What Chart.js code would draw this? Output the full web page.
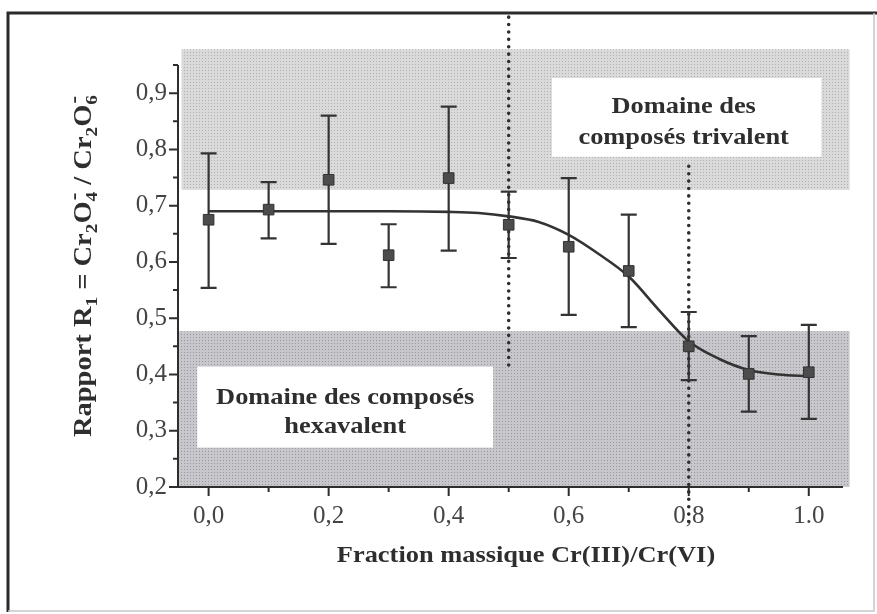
<!DOCTYPE html>
<html>
<head>
<meta charset="utf-8">
<script src="https://cdn.jsdelivr.net/npm/chart.js@4.4.1/dist/chart.umd.min.js"></script>
<style>
  html, body { margin: 0; padding: 0; background: #fff; }
  #chart { display: block; }
</style>
</head>
<body>
<canvas id="chart" width="877" height="614"></canvas>
<script>
// mass fraction Cr(III)/Cr(VI) and measured ratio R1 with its error bars
const fractions = [0.0, 0.1, 0.2, 0.3, 0.4, 0.5, 0.6, 0.7, 0.8, 0.9, 1.0];
const ratios = [0.675, 0.693, 0.746, 0.612, 0.749, 0.666, 0.627, 0.584, 0.450, 0.401, 0.404];
const ratiosHigh = [0.793, 0.742, 0.860, 0.667, 0.876, 0.725, 0.749, 0.684, 0.511, 0.468, 0.488];
const ratiosLow = [0.554, 0.642, 0.632, 0.555, 0.620, 0.607, 0.506, 0.484, 0.390, 0.334, 0.321];

// fitted sigmoid, read point by point
const fitX = [0.0, 0.1, 0.2, 0.3, 0.4, 0.45, 0.5, 0.55, 0.6, 0.65, 0.7, 0.75, 0.8, 0.85, 0.9, 0.95, 1.0];
const fitY = [0.690, 0.690, 0.690, 0.690, 0.689, 0.687, 0.681, 0.671, 0.648, 0.614, 0.574, 0.515, 0.459, 0.428, 0.408, 0.400, 0.397];

// axis ticks
const xMajor = [0.0, 0.2, 0.4, 0.6, 0.8, 1.0];
const xMajorLabels = ['0,0', '0,2', '0,4', '0,6', '0,8', '1.0'];
const xMinor = [0.1, 0.3, 0.5, 0.7, 0.9];
const yMajor = [0.2, 0.3, 0.4, 0.5, 0.6, 0.7, 0.8, 0.9];
const yMajorLabels = ['0,2', '0,3', '0,4', '0,5', '0,6', '0,7', '0,8', '0,9'];
const yMinor = [0.25, 0.35, 0.45, 0.55, 0.65, 0.75, 0.85, 0.95];

// shaded domains (x range, y range) and their caption boxes
const trivalentBand = { x: [-0.045, 1.068], y: [0.728, 0.978] };
const hexavalentBand = { x: [-0.051, 1.068], y: [0.2, 0.477] };
const trivalentBox = { x: [0.572, 1.021], y: [0.787, 0.927] };
const hexavalentBox = { x: [-0.019, 0.474], y: [0.270, 0.414] };
const trivalentText = ['Domaine des', 'composés trivalent'];
const hexavalentText = ['Domaine des composés', 'hexavalent'];

// dotted boundaries
const boundaries = [
  { x: 0.5, y: [0.405, 1.035] },
  { x: 0.8, y: [0.138, 0.770] },
];

const SERIF = '"Liberation Serif", "Times New Roman", serif';
const INK = '#2e2e2e';

const halftone = (ctx, base, dot) => {
  const c = document.createElement('canvas');
  c.width = 3;
  c.height = 3;
  const g = c.getContext('2d');
  g.fillStyle = base;
  g.fillRect(0, 0, 3, 3);
  g.fillStyle = dot;
  g.fillRect(1, 1, 1, 1);
  return ctx.createPattern(c, 'repeat');
};

const stretchedText = (ctx, text, x, y, sx) => {
  ctx.save();
  ctx.translate(x, y);
  ctx.scale(sx, 1);
  ctx.fillText(text, 0, 0);
  ctx.restore();
};

const rect = (chart, r) => {
  const { x, y } = chart.scales;
  const x0 = x.getPixelForValue(r.x[0]);
  const x1 = x.getPixelForValue(r.x[1]);
  const y0 = y.getPixelForValue(r.y[1]);
  const y1 = y.getPixelForValue(r.y[0]);
  return { left: x0, top: y0, width: x1 - x0, height: y1 - y0 };
};

// y title with sub/superscripts, drawn rotated and fitted to a length
const yTitleParts = [
  ['Rapport R'], ['1', 'sub'], [' = Cr'], ['2', 'sub'], ['O'], ['4', 'sub', '-'],
  [' / Cr'], ['2', 'sub'], ['O'], ['6', 'sub', '-'],
];

const drawYTitle = (ctx, baseX, centerY, length) => {
  const main = `bold 25px ${SERIF}`;
  const small = `bold 17px ${SERIF}`;
  let total = 0;
  const widths = yTitleParts.map(p => {
    ctx.font = p[1] ? small : main;
    const w = ctx.measureText(p[0]).width;
    total += w;
    return w;
  });
  ctx.save();
  ctx.translate(baseX, centerY);
  ctx.rotate(-Math.PI / 2);
  ctx.scale(length / total, 1);
  ctx.fillStyle = INK;
  ctx.textAlign = 'left';
  ctx.textBaseline = 'alphabetic';
  let pos = -total / 2;
  yTitleParts.forEach((p, i) => {
    if (p[1] === 'sub') {
      ctx.font = small;
      ctx.fillText(p[0], pos, 6);
      if (p[2]) {
        ctx.font = `bold 20px ${SERIF}`;
        ctx.fillText(p[2], pos + 1, -11);
      }
    } else {
      ctx.font = main;
      ctx.fillText(p[0], pos, 0);
    }
    pos += widths[i];
  });
  ctx.restore();
};

const decor = {
  id: 'decor',
  beforeDatasetsDraw(chart) {
    const ctx = chart.ctx;
    const { x, y } = chart.scales;

    // shaded domains
    ctx.save();
    let r = rect(chart, trivalentBand);
    ctx.fillStyle = halftone(ctx, '#dadada', '#b0b0b0');
    ctx.fillRect(r.left, r.top, r.width, r.height);
    r = rect(chart, hexavalentBand);
    ctx.fillStyle = halftone(ctx, '#c8c8cc', '#96969c');
    ctx.fillRect(r.left, r.top, r.width, r.height);

    // caption boxes
    ctx.fillStyle = '#ffffff';
    ctx.font = `bold 24px ${SERIF}`;
    ctx.textAlign = 'center';
    ctx.textBaseline = 'alphabetic';
    r = rect(chart, trivalentBox);
    ctx.fillRect(r.left, r.top, r.width, r.height);
    ctx.fillStyle = INK;
    stretchedText(ctx, trivalentText[0], r.left + r.width / 2 - 3, r.top + 35, 1.1);
    stretchedText(ctx, trivalentText[1], r.left + r.width / 2 - 3, r.top + 66, 1.1);
    ctx.fillStyle = '#ffffff';
    r = rect(chart, hexavalentBox);
    ctx.fillRect(r.left, r.top, r.width, r.height);
    ctx.fillStyle = INK;
    stretchedText(ctx, hexavalentText[0], r.left + r.width / 2, r.top + 37, 1.1);
    stretchedText(ctx, hexavalentText[1], r.left + r.width / 2, r.top + 66, 1.1);

    // dotted boundaries
    ctx.strokeStyle = '#2e2e2e';
    ctx.lineWidth = 3.6;
    ctx.lineCap = 'round';
    ctx.setLineDash([0, 7.4]);
    boundaries.forEach(b => {
      const px = x.getPixelForValue(b.x);
      ctx.beginPath();
      ctx.moveTo(px, y.getPixelForValue(b.y[1]));
      ctx.lineTo(px, y.getPixelForValue(b.y[0]));
      ctx.stroke();
    });
    ctx.setLineDash([]);

    // error bars
    ctx.strokeStyle = '#333333';
    ctx.lineWidth = 2.2;
    ctx.lineCap = 'butt';
    fractions.forEach((f, i) => {
      const px = x.getPixelForValue(f);
      const hi = y.getPixelForValue(ratiosHigh[i]);
      const lo = y.getPixelForValue(ratiosLow[i]);
      ctx.beginPath();
      ctx.moveTo(px, hi);
      ctx.lineTo(px, lo);
      ctx.moveTo(px - 8, hi);
      ctx.lineTo(px + 8, hi);
      ctx.moveTo(px - 8, lo);
      ctx.lineTo(px + 8, lo);
      ctx.stroke();
    });
    ctx.restore();
  },
  afterDraw(chart) {
    const ctx = chart.ctx;
    const { x, y } = chart.scales;
    const area = chart.chartArea;
    ctx.save();

    // axes with major and minor ticks
    ctx.strokeStyle = INK;
    ctx.lineWidth = 2;
    ctx.beginPath();
    ctx.moveTo(area.left, area.top);
    ctx.lineTo(area.left, area.bottom);
    ctx.lineTo(area.right, area.bottom);
    yMajor.forEach(v => {
      const py = y.getPixelForValue(v);
      ctx.moveTo(area.left - 9, py);
      ctx.lineTo(area.left, py);
    });
    yMinor.forEach(v => {
      const py = y.getPixelForValue(v);
      ctx.moveTo(area.left - 5, py);
      ctx.lineTo(area.left, py);
    });
    xMajor.forEach(v => {
      const px = x.getPixelForValue(v);
      ctx.moveTo(px, area.bottom);
      ctx.lineTo(px, area.bottom + 9);
    });
    xMinor.forEach(v => {
      const px = x.getPixelForValue(v);
      ctx.moveTo(px, area.bottom);
      ctx.lineTo(px, area.bottom + 5);
    });
    ctx.stroke();

    // axis titles
    ctx.fillStyle = INK;
    ctx.font = `bold 24px ${SERIF}`;
    ctx.textAlign = 'center';
    ctx.textBaseline = 'alphabetic';
    stretchedText(ctx, 'Fraction massique Cr(III)/Cr(VI)', 526, 562, 1.1);
    drawYTitle(ctx, 91, 266, 342);

    // outer frame
    ctx.strokeStyle = '#2a2a2a';
    ctx.lineWidth = 3;
    ctx.beginPath();
    ctx.moveTo(8, 612);
    ctx.lineTo(8, 13);
    ctx.lineTo(877, 13);
    ctx.stroke();
    ctx.strokeStyle = '#c8c8c8';
    ctx.lineWidth = 1.5;
    ctx.beginPath();
    ctx.moveTo(874, 13);
    ctx.lineTo(874, 611);
    ctx.lineTo(8, 611);
    ctx.stroke();
    ctx.restore();
  },
};

const tickFont = { family: SERIF, size: 25 };

new Chart(document.getElementById('chart').getContext('2d'), {
  type: 'scatter',
  data: {
    datasets: [
      {
        label: 'R1',
        data: fractions.map((f, i) => ({ x: f, y: ratios[i] })),
        pointStyle: 'rect',
        pointRadius: 7.5,
        backgroundColor: '#4c4c4c',
        borderColor: '#333333',
        borderWidth: 1,
        order: 0,
      },
      {
        label: 'fit',
        type: 'line',
        data: fitX.map((f, i) => ({ x: f, y: fitY[i] })),
        borderColor: '#333333',
        borderWidth: 2.6,
        pointRadius: 0,
        cubicInterpolationMode: 'monotone',
        fill: false,
        order: 1,
      },
    ],
  },
  options: {
    responsive: false,
    animation: false,
    layout: { padding: { top: 65, right: 34, left: 0, bottom: 0 } },
    plugins: {
      legend: { display: false },
      tooltip: { enabled: false },
    },
    scales: {
      x: {
        type: 'linear',
        min: -0.051,
        max: 1.057,
        grid: { display: false, drawTicks: false },
        border: { display: false },
        afterBuildTicks: s => { s.ticks = xMajor.map(v => ({ value: v })); },
        afterFit: s => { s.height = 127; },
        ticks: {
          callback: (v, i) => xMajorLabels[i],
          font: tickFont,
          color: '#444',
          padding: 14,
          maxRotation: 0,
          autoSkip: false,
        },
      },
      y: {
        type: 'linear',
        min: 0.2,
        max: 0.95,
        grid: { display: false, drawTicks: false },
        border: { display: false },
        afterBuildTicks: s => { s.ticks = yMajor.map(v => ({ value: v })); },
        afterFit: s => { s.width = 178; },
        ticks: {
          callback: (v, i) => yMajorLabels[i],
          font: tickFont,
          color: '#444',
          padding: 11,
          autoSkip: false,
        },
      },
    },
  },
  plugins: [decor],
});
</script>
</body>
</html>
